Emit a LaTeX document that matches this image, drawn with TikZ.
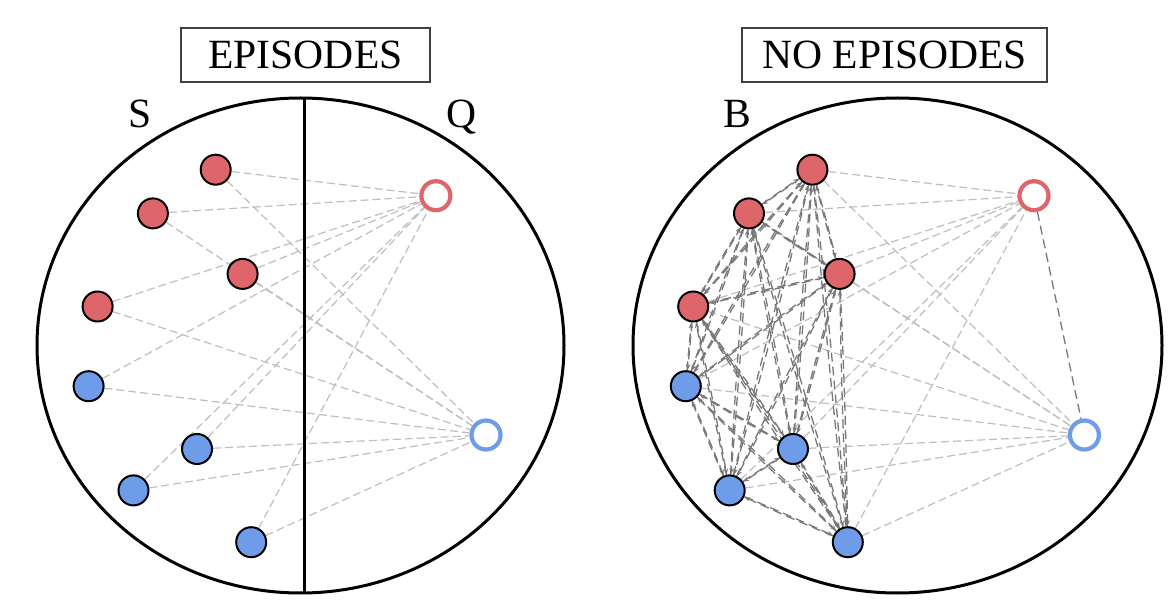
\documentclass[tikz,border=0pt]{standalone}
\usepackage{fontspec}
\setmainfont{Liberation Serif}
\usetikzlibrary{arrows.meta,backgrounds}
\definecolor{myred}{RGB}{222,102,106}
\definecolor{myblue}{RGB}{110,156,232}
\definecolor{lightedge}{RGB}{190,190,190}
\definecolor{darkedge}{RGB}{120,120,120}
\tikzset{
  rnode/.style={circle,draw=black,line width=1pt,fill=myred,minimum size=15pt,inner sep=0pt},
  bnode/.style={circle,draw=black,line width=1pt,fill=myblue,minimum size=15pt,inner sep=0pt},
  rquery/.style={circle,draw=myred,line width=2.1pt,fill=white,minimum size=14.5pt,inner sep=0pt},
  bquery/.style={circle,draw=myblue,line width=2.1pt,fill=white,minimum size=14.5pt,inner sep=0pt},
  lightline/.style={draw=lightedge,line width=0.6pt,dash pattern=on 4pt off 2pt},
  darkline/.style={draw=darkedge,line width=0.65pt,dash pattern=on 4.5pt off 2.5pt},
  darkarrow/.style={darkline,-{Stealth[length=3pt,width=2.2pt]},bend left=0.8},
  titlebox/.style={draw=black!75,line width=0.7pt,minimum height=27pt,inner sep=0pt,font=\fontsize{20.8}{24}\selectfont},
  setlabel/.style={anchor=base,inner sep=0pt,font=\fontsize{20.8}{24}\selectfont},
  bigring/.style={draw=black,line width=1.5pt}
}
\begin{document}
\begin{tikzpicture}[x=0.5pt,y=-0.5pt]
\useasboundingbox (0,0) rectangle (1175,615);

% titles
\node[titlebox,minimum width=124.5pt] (t1) at (305.5,55) {EPISODES};
\node[titlebox,minimum width=152.5pt] (t2) at (894.5,55) {NO EPISODES};

% set labels
\node[setlabel] (S) at (140,128) {S};
\node[setlabel] (Q) at (462,128) {Q};
\node[setlabel] (B) at (737,128) {B};

% big circles
\draw[bigring] (300.5,345.5) ellipse (263.5 and 247.5);
\draw[bigring] (304,98) -- (304,593);
\draw[bigring] (897.5,345.5) ellipse (264.5 and 247.5);

% left panel nodes
\node[rnode] (lr1) at (215.7,169.7) {};
\node[rnode] (lr2) at (152.9,213.4) {};
\node[rnode] (lr3) at (242.6,273.9) {};
\node[rnode] (lr4) at (97.6,306.5) {};
\node[bnode] (lb1) at (88.6,386.2) {};
\node[bnode] (lb2) at (197,449) {};
\node[bnode] (lb3) at (133.5,490.4) {};
\node[bnode] (lb4) at (251.2,542.2) {};
\node[rquery] (lqr) at (435.9,195.7) {};
\node[bquery] (lqb) at (486,435) {};

% right panel nodes
\node[rnode] (rr1) at (812.4,169.7) {};
\node[rnode] (rr2) at (749,213.4) {};
\node[rnode] (rr3) at (839.6,273.9) {};
\node[rnode] (rr4) at (693.2,306.5) {};
\node[bnode] (rb1) at (685.8,386.2) {};
\node[bnode] (rb2) at (793,449) {};
\node[bnode] (rb3) at (729.7,490.4) {};
\node[bnode] (rb4) at (847.8,542.2) {};
\node[rquery] (rqr) at (1034,195.7) {};
\node[bquery] (rqb) at (1084.4,435) {};

\begin{pgfonlayer}{background}
  \foreach \a in {lr1,lr2,lr3,lr4,lb1,lb2,lb3,lb4}
    \foreach \q in {lqr,lqb}
      \draw[lightline] (\a) -- (\q);
  \foreach \a in {rr1,rr2,rr3,rr4,rb1,rb2,rb3,rb4}
    \foreach \q in {rqr,rqb}
      \draw[lightline] (\a) -- (\q);
  \foreach \a [count=\i] in {rr1,rr2,rr3,rr4,rb1,rb2,rb3,rb4}
    \foreach \b [count=\j] in {rr1,rr2,rr3,rr4,rb1,rb2,rb3,rb4}
      {\ifnum\i=\j\else \draw[darkarrow] (\a) to (\b);\fi}
  \draw[darkline] (rqr) -- (rqb);
\end{pgfonlayer}
\end{tikzpicture}
\end{document}
